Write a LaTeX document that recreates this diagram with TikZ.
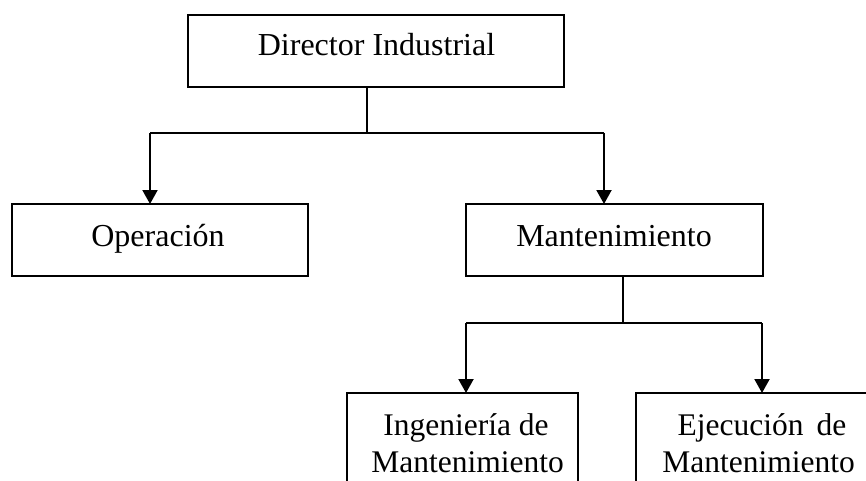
\documentclass[tikz,border=0pt]{standalone}
\usepackage{fontspec}
\setmainfont{Liberation Serif}
\usetikzlibrary{arrows.meta}
\begin{document}
\begin{tikzpicture}[x=1pt,y=-1pt,
  box/.style={draw=black,line width=2pt,inner sep=0pt,outer sep=0pt,rectangle},
  lbl/.style={inner sep=0pt,outer sep=0pt,font=\fontsize{32}{34}\selectfont},
  lbls/.style={inner sep=0pt,outer sep=0pt,font=\fontsize{31.5}{34}\selectfont},
  conn/.style={line width=2pt},
  arr/.style={line width=2pt,-{Triangle[width=15pt,length=14pt]}}]
\clip (0,0) rectangle (866,481);
\fill[white] (0,0) rectangle (866,481);
% boxes
\node[box,minimum width=376pt,minimum height=72pt] (dir) at (376,51) {};
\node[box,minimum width=296pt,minimum height=72pt] (op) at (160,240) {};
\node[box,minimum width=297pt,minimum height=72pt] (mant) at (614.5,240) {};
\node[box,minimum width=231pt,minimum height=110pt] (ing) at (462.5,448) {};
\node[box,minimum width=231pt,minimum height=110pt] (eje) at (751.5,448) {};
% labels
\node[lbl,anchor=base] (tdir) at (376.5,56) {Director Industrial};
\node[lbl,anchor=base] (top) at (158,246) {Operación};
\node[lbl,anchor=base] (tmant) at (614,246) {Mantenimiento};
\node[lbls,anchor=base] (ting1) at (466,435) {Ingeniería de};
\node[lbls,anchor=base] (ting2) at (467.5,472) {Mantenimiento};
\node[lbls,anchor=base] (teje1) at (762,435) {Ejecución\hspace{5pt} de};
\node[lbls,anchor=base] (teje2) at (758.5,472) {Mantenimiento};
% connectors
\coordinate (j1) at (367,133);
\coordinate (a1) at (150,133);
\coordinate (a2) at (604,133);
\coordinate (j2) at (623,323);
\coordinate (a3) at (466,323);
\coordinate (a4) at (762,323);
\draw[conn] (dir.south -| j1) -- (j1);
\draw[conn] (a1) -- (a2);
\draw[arr] (a1) -- (op.north -| a1);
\draw[arr] (a2) -- (mant.north -| a2);
\draw[conn] (mant.south -| j2) -- (j2);
\draw[conn] (a3) -- (a4);
\draw[arr] (a3) -- (ing.north -| a3);
\draw[arr] (a4) -- (eje.north -| a4);
\end{tikzpicture}
\end{document}
